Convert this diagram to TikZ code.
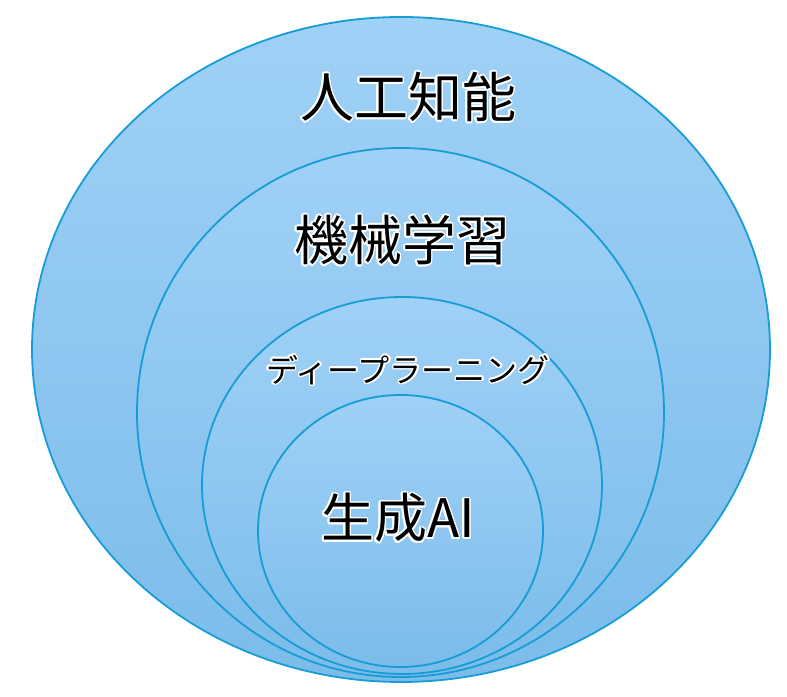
\documentclass[tikz,border=0pt]{standalone}
\usepackage{fontspec}
\newfontfamily\jp{Noto Sans CJK JP}
\definecolor{edge}{HTML}{179DD6}
\definecolor{topc}{HTML}{A0D1F6}
\definecolor{botc}{HTML}{7BBCEA}
\newcommand{\halotext}[4]{% name, position, size, text
  \foreach \a in {0,22.5,...,359}{
    \node[text=white,font=\jp\fontsize{#3}{#3}\selectfont,inner sep=0pt] at ([shift={(\a:1.6pt)}]#2) {#4};
  }
  \node[text=black,font=\jp\fontsize{#3}{#3}\selectfont,inner sep=0pt] (#1) at (#2) {#4};
}
\begin{document}
\begin{tikzpicture}[x=1pt,y=1pt,
  ring/.style={draw=edge,line width=1.8pt,top color=topc,bottom color=botc}]
\useasboundingbox (0,0) rectangle (787,696);
\path[ring] (401,346.5) ellipse [x radius=369,y radius=332.5];
\path[ring] (400.5,283.5) ellipse [x radius=263.5,y radius=264.5];
\path[ring] (402,210.5) ellipse [x radius=200,y radius=188.5];
\path[ring] (400.5,165) ellipse [x radius=142.5,y radius=136];
\halotext{ai}{408,599}{54}{人工知能}
\halotext{ml}{402,456}{54}{機械学習}
\halotext{dl}{408,326}{32}{ディープラーニング}
\halotext{gen}{398,178}{53}{生成AI}
\end{tikzpicture}
\end{document}
